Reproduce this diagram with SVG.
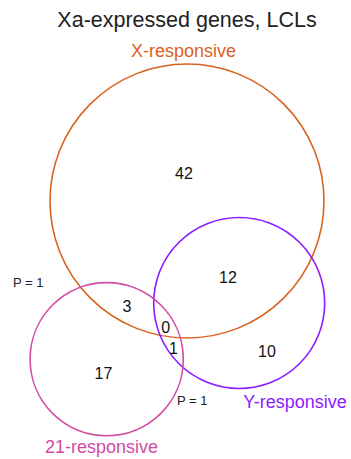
<svg xmlns="http://www.w3.org/2000/svg" width="351" height="459" viewBox="0 0 351 459">
<style>
  text { font-family: "Liberation Sans", Arial, sans-serif; }
  .set { fill: none; stroke-width: 1.6; }
  .num { font-size: 16px; fill: #111; text-anchor: middle; }
  .p { font-size: 13px; fill: #222; }
  .lab { font-size: 18px; }
</style>
<rect width="351" height="459" fill="#fff"/>
<text x="187" y="27" font-size="21.5" fill="#222" text-anchor="middle">Xa-expressed genes, LCLs</text>
<g id="x-responsive">
  <circle class="set" cx="187" cy="201" r="137" stroke="#d9621f"/>
  <text class="lab" x="183.5" y="57" fill="#d9621f" text-anchor="middle">X-responsive</text>
</g>
<g id="y-responsive">
  <circle class="set" cx="239.2" cy="303" r="85.5" stroke="#8b1cff"/>
  <text class="lab" x="295" y="408" fill="#8b1cff" text-anchor="middle">Y-responsive</text>
</g>
<g id="r21-responsive">
  <circle class="set" cx="106.7" cy="359.2" r="76.6" stroke="#d44aa4"/>
  <text class="lab" x="101.5" y="452.5" fill="#d44aa4" text-anchor="middle">21-responsive</text>
</g>
<g id="counts">
  <text class="num" x="184" y="179">42</text>
  <text class="num" x="228" y="283">12</text>
  <text class="num" x="127" y="312">3</text>
  <text class="num" x="165.7" y="333">0</text>
  <text class="num" x="173.5" y="354">1</text>
  <text class="num" x="267" y="357">10</text>
  <text class="num" x="103.5" y="379">17</text>
</g>
<g id="pvalues">
  <text class="p" x="13" y="287">P = 1</text>
  <text class="p" x="177" y="405">P = 1</text>
</g>
</svg>
